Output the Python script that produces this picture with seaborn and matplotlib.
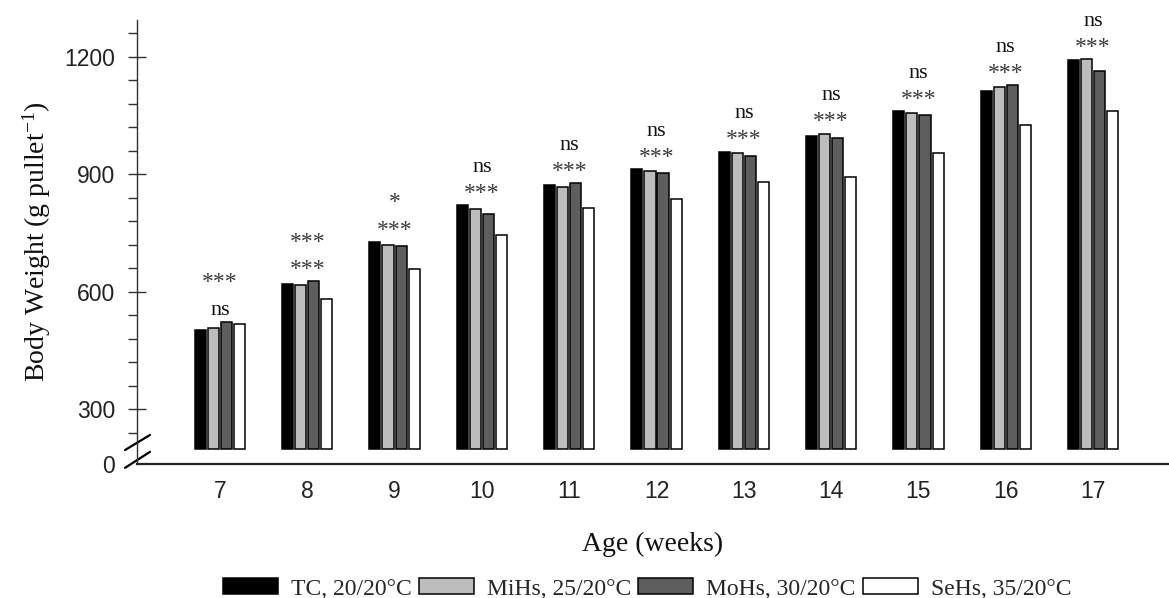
import matplotlib
matplotlib.use("Agg")
import matplotlib.pyplot as plt
from matplotlib.patches import Patch
import seaborn as sns
import pandas as pd

# values (g per pullet)
weeks = ["7", "8", "9", "10", "11", "12", "13", "14", "15", "16", "17"]
treatments = ["TC, 20/20°C", "MiHs, 25/20°C", "MoHs, 30/20°C", "SeHs, 35/20°C"]
tc = [504, 621, 728, 822, 874, 913, 958, 998, 1061, 1114, 1193]
mihs = [509, 618, 719, 811, 868, 908, 954, 1004, 1056, 1124, 1194]
mohs = [524, 627, 717, 799, 878, 903, 946, 994, 1052, 1127, 1165]
sehs = [518, 582, 658, 745, 814, 838, 880, 893, 954, 1027, 1062]
sig_top = ["***", "***", "*", "ns", "ns", "ns", "ns", "ns", "ns", "ns", "ns"]
sig_bottom = ["ns", "***", "***", "***", "***", "***", "***", "***", "***", "***", "***"]
colors = ["black", "#bdbdbd", "#5e5e5e", "white"]

BASE = 200      # bars start here, above the axis break
AXIS_ZERO = 160  # where the "0" of the broken axis sits

df = pd.DataFrame({
    "Week": weeks * 4,
    "Treatment": [t for t in treatments for _ in weeks],
    "Weight": tc + mihs + mohs + sehs,
})
df["Height"] = df["Weight"] - BASE

sns.set_style("ticks")
plt.rcParams["font.family"] = ["Liberation Serif", "DejaVu Serif"]
plt.rcParams["mathtext.fontset"] = "custom"
plt.rcParams["mathtext.rm"] = "Liberation Serif"
plt.rcParams["mathtext.default"] = "regular"

fig = plt.figure(figsize=(11.69, 5.98), dpi=100)
ax = fig.add_axes([0.1172, 0.2236, 0.8828, 0.7436])

sns.barplot(data=df, x="Week", y="Height", hue="Treatment", order=weeks,
            hue_order=treatments, palette=colors, width=0.6, gap=0.15,
            edgecolor="black", linewidth=1.1, bottom=BASE, errorbar=None,
            legend=False, ax=ax)

ax.set_xlim(-0.95, 10.87)
ax.set_ylim(AXIS_ZERO, 1295)

# significance marks above each group
for i in range(len(weeks)):
    top = max(tc[i], mihs[i], mohs[i], sehs[i])
    for lab, off in ((sig_bottom[i], 4.5), (sig_top[i], 24)):
        star = lab.startswith("*")
        ax.annotate(lab, (i, top), xytext=(0, off), textcoords="offset points",
                    ha="center", va="baseline",
                    fontsize=17 if star else 16,
                    color="#3a3a3a" if star else "#111111")

# axes styling
sns.despine(ax=ax)
ax.spines["left"].set_color("#333333")
ax.spines["left"].set_linewidth(1.0)
ax.spines["bottom"].set_color("#222222")
ax.spines["bottom"].set_linewidth(1.6)

ax.set_yticks([AXIS_ZERO, 300, 600, 900, 1200], labels=["0", "300", "600", "900", "1200"])
ax.set_yticks([v for v in range(240, 1261, 60) if v % 300], minor=True)
ax.yaxis.get_major_ticks()[0].tick1line.set_visible(False)
ax.tick_params(axis="y", which="major", direction="inout", length=13.5, width=1,
               pad=9, labelsize=16.5, colors="#333333", labelcolor="#222222")
ax.tick_params(axis="y", which="minor", direction="out", length=6.5, width=1,
               colors="#333333")
ax.tick_params(axis="x", length=0, pad=11, labelsize=16.5, labelcolor="#222222")
for lab in ax.get_xticklabels() + ax.get_yticklabels():
    lab.set_family("Liberation Sans")

ax.set_xlabel("Age (weeks)", fontsize=20, labelpad=21, color="#111111")
ax.set_ylabel("Body Weight (g pullet$^{-1}$)", fontsize=20, labelpad=8, color="#111111")

# axis break marks
for y0, y1 in ((0.032, 0.066), (-0.008, 0.028)):
    ax.plot([-0.0116, 0.0126], [y0, y1], transform=ax.transAxes, clip_on=False,
            color="black", lw=1.6)

handles = [Patch(facecolor=c, edgecolor="black", linewidth=1.1) for c in colors]
fig.legend(handles, treatments, loc="center", bbox_to_anchor=(0.5535, 0.015),
           ncol=4, frameon=False, prop={"family": "Liberation Serif", "size": 17},
           handlelength=2.33, handleheight=0.64, handletextpad=0.55,
           columnspacing=0.3, borderaxespad=0, borderpad=0)

fig.savefig("out.png", dpi=100)
